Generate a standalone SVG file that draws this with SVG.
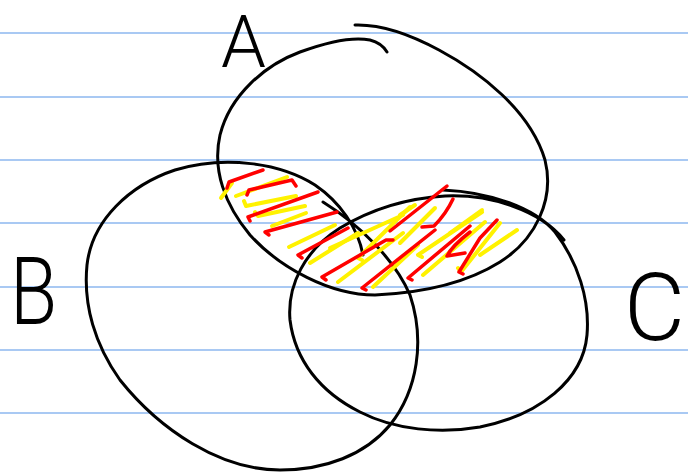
<svg xmlns="http://www.w3.org/2000/svg" width="688" height="473" viewBox="0 0 688 473">
<style>
.rule{stroke:#a9c9f3;stroke-width:2}
.ink{fill:none;stroke:#000;stroke-width:3;stroke-linecap:round;stroke-linejoin:round}
.red{fill:none;stroke:#f00;stroke-width:3.5;stroke-linecap:round;stroke-linejoin:round}
.yel{fill:none;stroke:#fff200;stroke-width:4;stroke-linecap:round;stroke-linejoin:round}
.lbl{font-family:Roboto,"Liberation Sans",sans-serif;font-weight:300;fill:#000}
</style>
<rect width="688" height="473" fill="#fff"/>
<g id="paper">
<line class="rule" x1="0" y1="33" x2="688" y2="33"/>
<line class="rule" x1="0" y1="97" x2="688" y2="97"/>
<line class="rule" x1="0" y1="160" x2="688" y2="160"/>
<line class="rule" x1="0" y1="223" x2="688" y2="223"/>
<line class="rule" x1="0" y1="287" x2="688" y2="287"/>
<line class="rule" x1="0" y1="350" x2="688" y2="350"/>
<line class="rule" x1="0" y1="413" x2="688" y2="413"/>
</g>
<g id="set-A">
<path class="ink" d="M355,25 C385,24 415,37 439,50 C480,72 530,110 545,160 C555,200 535,240 500,262 C465,284 420,293 375,295 C330,295 280,268 250,235 C225,205 212,170 220,135 C230,95 265,65 300,52 C330,41 355,37 370,40 C378,42 384,47 387,52"/>
<text class="lbl" x="221" y="67" font-size="72">A</text>
</g>
<g id="set-B">
<path class="ink" d="M323,202 C360,225 395,260 410,295 C425,340 418,390 390,425 C365,455 325,470 280,470 C220,470 160,430 120,380 C95,345 83,305 87,265 C92,220 130,185 175,170 C225,155 280,163 315,185 C340,202 358,228 363,255"/>
<text class="lbl" transform="translate(10,324) scale(0.82,1)" font-size="94">B</text>
</g>
<g id="set-C">
<path class="ink" d="M443,190 C490,192 535,208 555,232 C578,262 590,300 587,335 C583,380 540,415 480,427 C440,434 395,430 360,412 C320,392 295,360 290,320 C287,285 305,250 340,228 C375,207 410,198 445,196 C490,194 540,210 564,240"/>
<text class="lbl" x="624" y="340" font-size="94">C</text>
</g>
<g id="hatching">
<path class="yel" d="M221,198 L232,183"/>
<path class="yel" d="M287,177 L236,196"/>
<path class="yel" d="M296,196 L246,206 L244,201"/>
<path class="yel" d="M305,206 L258,216 L255,212"/>
<path class="yel" d="M306,213 L272,226"/>
<path class="yel" d="M335,225 L289,247"/>
<path class="yel" d="M358,233 L310,263"/>
<path class="yel" d="M403,215 L330,248"/>
<path class="yel" d="M410,207 L358,258 L362,260"/>
<path class="yel" d="M418,245 L373,287"/>
<path class="yel" d="M403,233 L338,282"/>
<path class="yel" d="M415,205 L400,215"/>
<path class="yel" d="M435,208 L400,243"/>
<path class="yel" d="M482,210 L450,233"/>
<path class="yel" d="M482,212 L418,255 L422,257"/>
<path class="yel" d="M485,222 L423,275"/>
<path class="yel" d="M500,223 L461,272 L458,268"/>
<path class="yel" d="M517,230 L480,255"/>
<path class="red" d="M263,170 L229,182 L227,188"/>
<path class="red" d="M296,186 L292,180 L249,190 L247,195"/>
<path class="red" d="M318,192 L248,217 L250,221"/>
<path class="red" d="M337,212 L265,232 L269,235"/>
<path class="red" d="M348,228 L298,255 L302,258"/>
<path class="red" d="M393,240 L386,240 L322,277 L326,280"/>
<path class="red" d="M447,186 L390,231"/>
<path class="red" d="M453,199 Q446,214 434,226 L422,227"/>
<path class="red" d="M435,230 L362,288 L366,290"/>
<path class="red" d="M470,226 L408,278 L412,280"/>
<path class="red" d="M470,232 Q452,246 447,256 L465,253"/>
<path class="red" d="M497,220 L480,238 L459,272 L463,274"/>
</g>
</svg>
